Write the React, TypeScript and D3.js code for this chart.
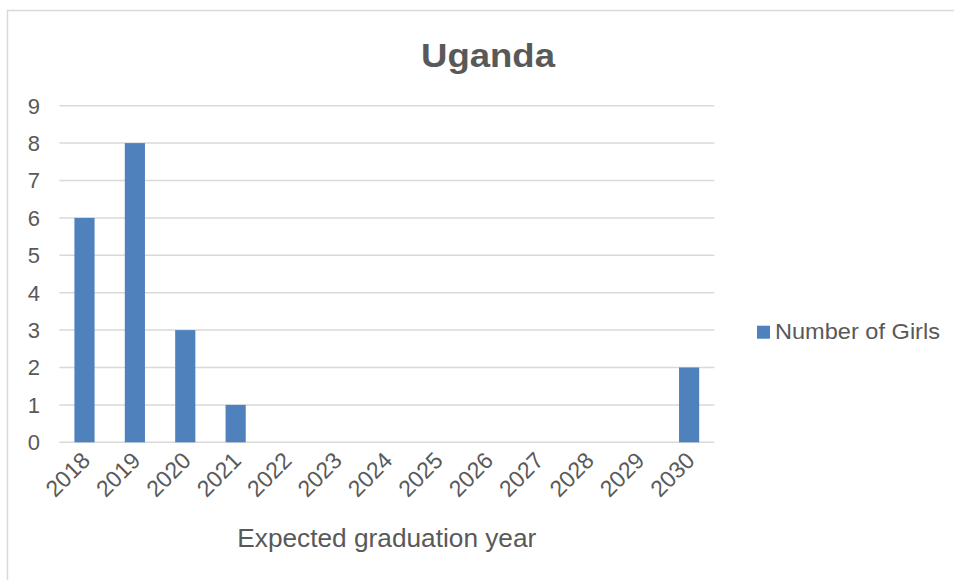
import React from "react";
import * as d3 from "d3";

const title = "Uganda";
const categories = ["2018","2019","2020","2021","2022","2023","2024","2025","2026","2027","2028","2029","2030"];
const girls = [6, 8, 3, 1, 0, 0, 0, 0, 0, 0, 0, 0, 2];
const yTicks = [0, 1, 2, 3, 4, 5, 6, 7, 8, 9];
const seriesName = "Number of Girls";
const xTitle = "Expected graduation year";

const W = 954, H = 580;
const plot = { left: 59.3, right: 714.3, top: 105.7, bottom: 442.3 };
const BAR = "#4F81BD";
const TXT = "#595959";
const GRID = "#D9D9D9";
const FONT = "'Liberation Sans', Arial, sans-serif";

export default function App() {
  const x = d3.scaleBand<string>().domain(categories).range([plot.left, plot.right]).padding(0);
  const y = d3.scaleLinear().domain([0, 9]).range([plot.bottom, plot.top]);
  const bw = x.bandwidth() * 0.4;
  const cx = (plot.left + plot.right) / 2;
  return (
    <svg width={W} height={H} style={{ position: "absolute", left: 0, top: 0, background: "#fff" }} fontFamily={FONT}>
      <rect x={0} y={0} width={W} height={H} fill="#fff" />
      <rect x={7.5} y={10.5} width={W + 10} height={H + 10} fill="none" stroke={GRID} strokeWidth={1.5} />
      <text x={488} y={66.7} textAnchor="middle" fontSize={33} fontWeight="bold" fill={TXT} textLength={134} lengthAdjust="spacingAndGlyphs">{title}</text>
      {yTicks.map(t => (
        <g key={t}>
          <line x1={plot.left} x2={plot.right} y1={y(t)} y2={y(t)} stroke={GRID} strokeWidth={1.5} />
          <text x={40} y={y(t)} dy="0.36em" textAnchor="end" fontSize={22} fill={TXT}>{t}</text>
        </g>
      ))}
      {categories.map((c, i) => (
        <rect key={c} x={(x(c) as number) + (x.bandwidth() - bw) / 2} y={y(girls[i])} width={bw} height={y(0) - y(girls[i])} fill={BAR} />
      ))}
      {categories.map(c => {
        const px = (x(c) as number) + x.bandwidth() / 2 + 7;
        const py = 462;
        return (
          <text key={c} x={px} y={py} transform={`rotate(-45 ${px} ${py})`} textAnchor="end" fontSize={23} fill={TXT}>{c}</text>
        );
      })}
      <text x={cx} y={546.7} textAnchor="middle" fontSize={26} fill={TXT} textLength={299} lengthAdjust="spacingAndGlyphs">{xTitle}</text>
      <rect x={757} y={325.7} width={13} height={13} fill={BAR} />
      <text x={775} y={339} fontSize={22} fill={TXT} textLength={165} lengthAdjust="spacingAndGlyphs">{seriesName}</text>
    </svg>
  );
}
